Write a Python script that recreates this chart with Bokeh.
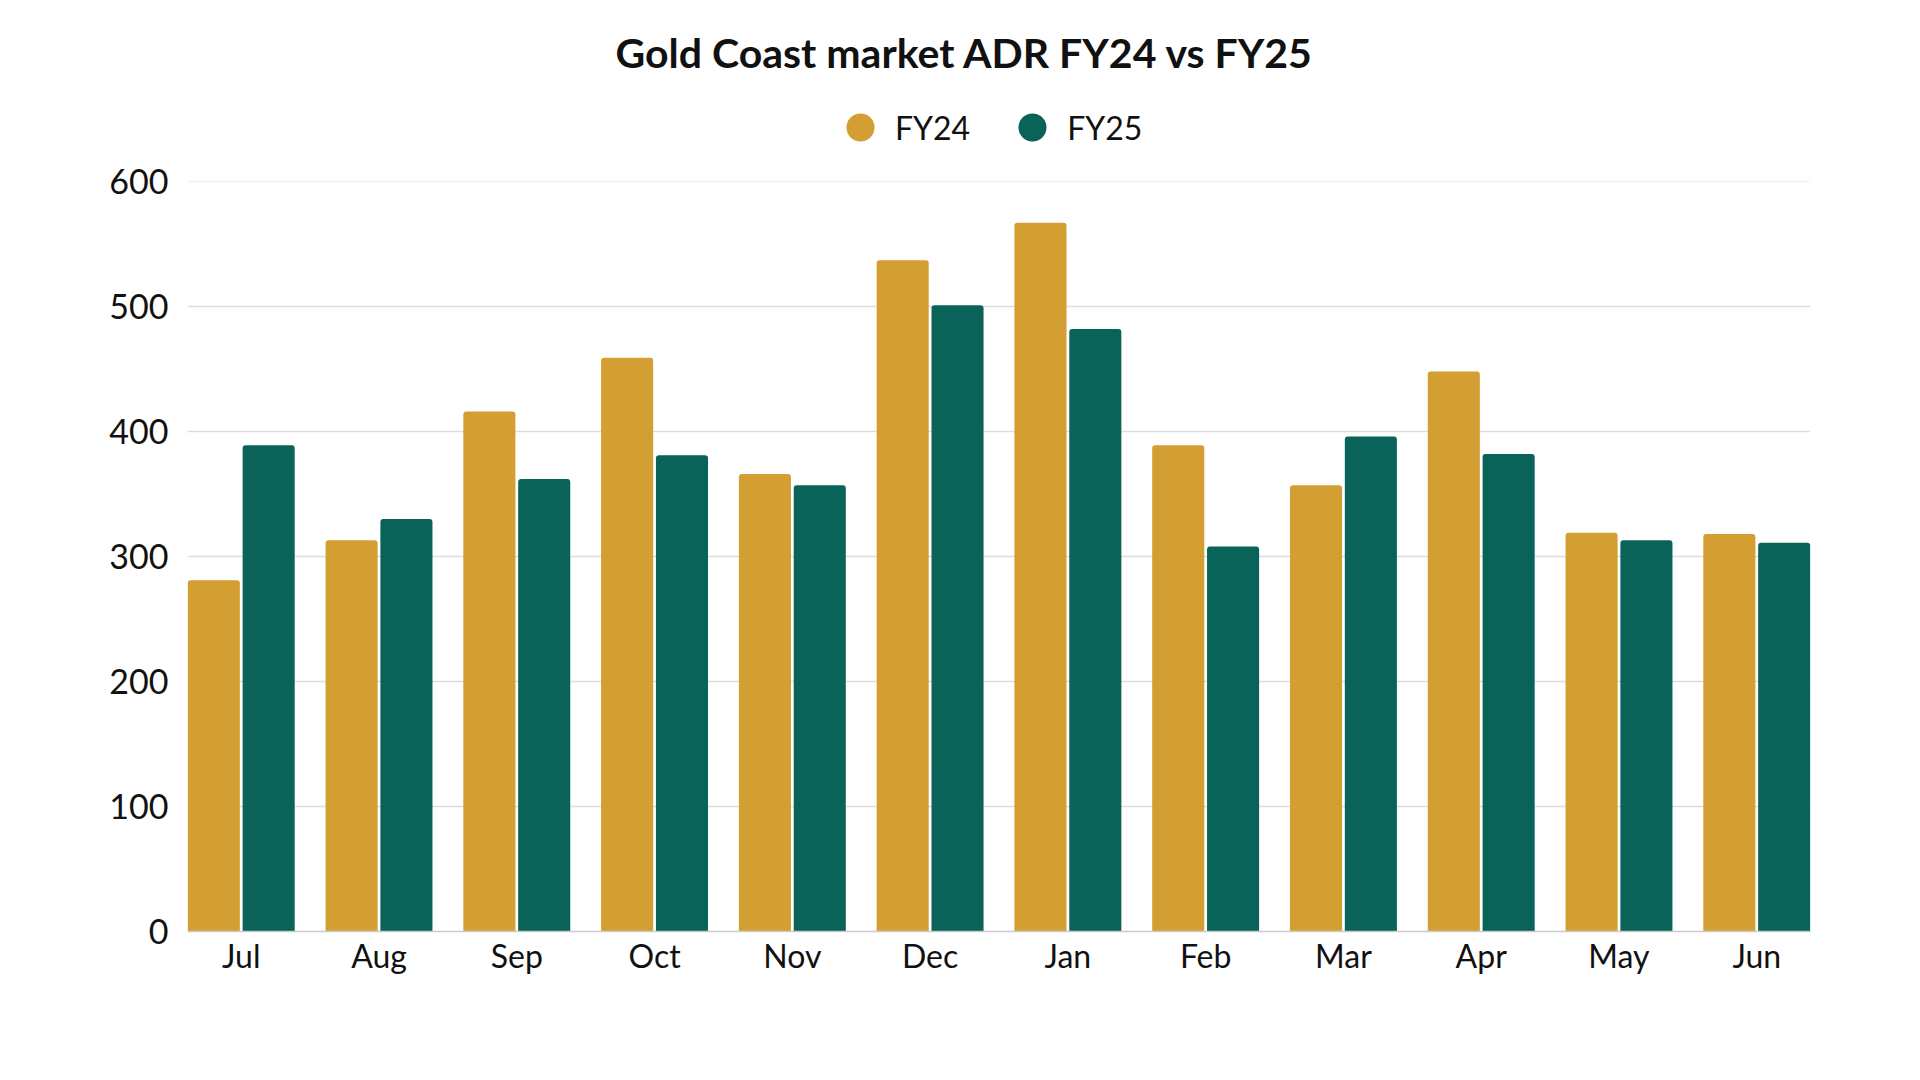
from bokeh.plotting import figure
from bokeh.models import Range1d, FixedTicker, Legend, LegendItem, Grid, ColumnDataSource
from bokeh.embed import file_html
from bokeh.resources import INLINE
from bokeh.transform import dodge

# ---- data ----
months = ["Jul", "Aug", "Sep", "Oct", "Nov", "Dec", "Jan", "Feb", "Mar", "Apr", "May", "Jun"]
fy24 = [281, 313, 416, 459, 366, 537, 567, 389, 357, 448, 319, 318]
fy25 = [389, 330, 362, 381, 357, 501, 482, 308, 396, 382, 313, 311]
series_names = ["FY24", "FY25"]
y_ticks = [0, 100, 200, 300, 400, 500, 600]
title_text = "Gold Coast market ADR FY24 vs FY25"

GOLD = "#D49F32"
TEAL = "#0A6358"
FONT = "Lato"

# ---- layout (pixels) ----
W, H = 1900, 1060
F_LEFT, F_RIGHT, F_BOTTOM = 187, 1810, 931   # plot area edges
Y600_PX = 181                                   # pixel row of the top tick
F_TOP = 84                                      # frame extends up to hold the legend
y_end = y_ticks[-1] * (F_BOTTOM - F_TOP) / (F_BOTTOM - Y600_PX)

src = ColumnDataSource(dict(x=list(range(len(months))), fy24=fy24, fy25=fy25))

p = figure(width=W, height=H,
           x_range=Range1d(-0.39, len(months) - 1 + 0.39),
           y_range=Range1d(y_ticks[0], y_end),
           output_backend="svg", toolbar_location=None,
           min_border_left=F_LEFT, min_border_right=W - F_RIGHT,
           min_border_top=F_TOP, min_border_bottom=H - F_BOTTOM)
p.outline_line_color = None
p.background_fill_color = "white"
p.border_fill_color = "white"

bw = 0.378
off = 0.199
p.vbar(x=dodge("x", -off, range=p.x_range), top="fy24", width=bw, source=src,
       fill_color=GOLD, line_color=None, border_radius=(3, 3, 0, 0))
p.vbar(x=dodge("x", off, range=p.x_range), top="fy25", width=bw, source=src,
       fill_color=TEAL, line_color=None, border_radius=(3, 3, 0, 0))

# legend swatches: zero-size circle markers on the same data (only their legend glyph shows)
c24 = p.scatter(x=dodge("x", -off, range=p.x_range), y="fy24", source=src, size=0,
                marker="circle", fill_color=GOLD, line_color=None)
c25 = p.scatter(x=dodge("x", off, range=p.x_range), y="fy25", source=src, size=0,
                marker="circle", fill_color=TEAL, line_color=None)
legend = Legend(items=[LegendItem(label=series_names[0], renderers=[c24], index=0),
                       LegendItem(label=series_names[1], renderers=[c25], index=0)],
                orientation="horizontal", location=(638, 769),
                border_line_color=None, background_fill_alpha=0,
                label_text_font=FONT, label_text_font_size="32px", label_text_color="#111111",
                glyph_width=70, glyph_height=70, spacing=27, label_standoff=0,
                padding=0, margin=0)
p.add_layout(legend, "center")

# title
p.title.text = title_text
p.title.align = "left"
p.title.offset = 428
p.title.standoff = 15
p.title.text_font = FONT
p.title.text_font_size = "41px"
p.title.text_font_style = "bold"
p.title.text_color = "#111111"

# axes
p.xaxis.ticker = FixedTicker(ticks=list(range(len(months))))
p.xaxis.major_label_overrides = {i: m for i, m in enumerate(months)}
p.xaxis.axis_line_color = "#cccccc"
p.xaxis.axis_line_width = 1.5
p.xaxis.major_tick_line_color = None
p.xaxis.minor_tick_line_color = None
p.xaxis.major_label_standoff = -2
p.xaxis.major_label_text_font = FONT
p.xaxis.major_label_text_font_size = "32px"
p.xaxis.major_label_text_color = "#111111"

p.yaxis.ticker = FixedTicker(ticks=y_ticks)
p.yaxis.axis_line_color = None
p.yaxis.major_tick_line_color = None
p.yaxis.minor_tick_line_color = None
p.yaxis.major_label_standoff = 13
p.yaxis.major_label_text_font = FONT
p.yaxis.major_label_text_font_size = "34px"
p.yaxis.major_label_text_color = "#111111"

p.xgrid.grid_line_color = None
p.ygrid.ticker = FixedTicker(ticks=y_ticks[1:-1])
p.ygrid.grid_line_color = "#dddddd"
p.ygrid.grid_line_width = 1.5
top_grid = Grid(dimension=1, ticker=FixedTicker(ticks=y_ticks[-1:]),
                grid_line_color="#f2f2f2", grid_line_width=1.5)
p.add_layout(top_grid)

open("out.html", "w").write(file_html(p, INLINE))
